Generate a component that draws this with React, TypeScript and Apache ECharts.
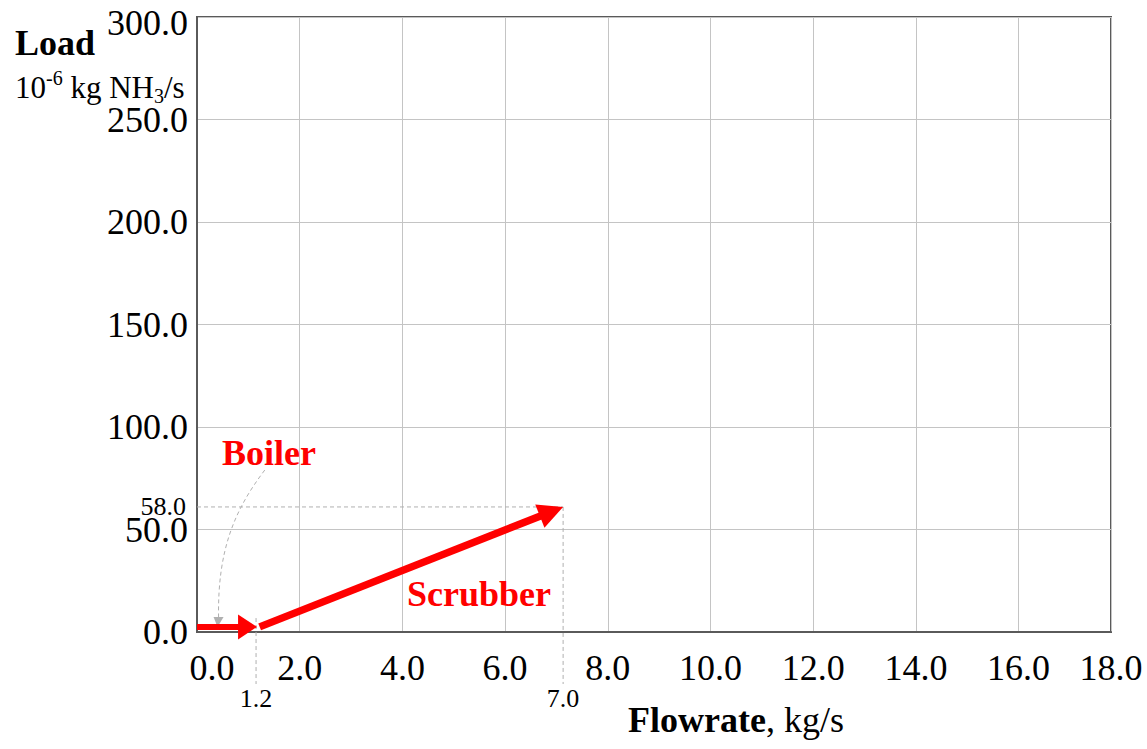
import React, { useEffect, useRef } from 'react';
import * as echarts from 'echarts';

// ---- data ----
const arrowNames = ['Boiler', 'Scrubber'];
const arrowX0 = [0, 1.22];
const arrowY0 = [2.5, 2.5];
const arrowX1 = [1.17, 7.13];
const arrowY1 = [2.5, 61];
const arrowLabelX = [1.4, 5.49];
const arrowLabelY = [87.2, 18.5];

const refVX = [1.15, 7.13];
const refVTop = [6.8, 61];
const refVText = ['1.2', '7.0'];
const refHY = [61];
const refHRight = [7.13];
const refHText = ['58.0'];

const leaderX = [1.32, 0.73, 0.4, 0.42];
const leaderY = [79, 59.5, 40, 7.3];
const leaderTip = [0.4, 2.4];

// ---- styles ----
const FONT = '"Liberation Serif", "Times New Roman", serif';
const RED = '#ff0000';
const GREY = '#b0b0b0';
const headLen = [19, 25];
const headHalf = [12.5, 12.5];
const shaftW = [6, 7.5];

export default function App() {
  const ref = useRef<HTMLDivElement>(null);
  useEffect(() => {
    if (!ref.current) return;
    const chart = echarts.init(ref.current, undefined, { renderer: 'svg' });
    const option: any = {
      animation: false,
      backgroundColor: '#ffffff',
      grid: {
        left: 197,
        top: 17,
        width: 914,
        height: 615,
        show: true,
        borderColor: '#5a5a5a',
        borderWidth: 2,
        containLabel: false,
      },
      xAxis: {
        type: 'value',
        min: 0,
        max: 17.8,
        interval: 2,
        axisLine: { show: true, lineStyle: { color: '#5a5a5a', width: 2 } },
        axisTick: { show: false },
        splitLine: { show: true, lineStyle: { color: '#c4c4c4', width: 1 } },
        axisLabel: {
          margin: 18,
          color: '#000',
          fontFamily: FONT,
          fontSize: 36,
          formatter: (v: number) => (v === 0 ? '{f|0.0}' : Math.round(v).toFixed(1)),
          rich: {
            f: { padding: [0, 0, 0, 30], fontFamily: FONT, fontSize: 36, color: '#000' },
          },
        },
      },
      yAxis: {
        type: 'value',
        min: 0,
        max: 300,
        interval: 50,
        axisLine: { show: true, lineStyle: { color: '#5a5a5a', width: 2 } },
        axisTick: { show: false },
        splitLine: { show: true, lineStyle: { color: '#c4c4c4', width: 1 } },
        axisLabel: {
          margin: 9,
          color: '#000',
          fontFamily: FONT,
          fontSize: 36,
          formatter: (v: number) => (v === 300 ? '{t|300.0}' : v.toFixed(1)),
          rich: {
            t: { padding: [12, 0, 0, 0], fontFamily: FONT, fontSize: 36, color: '#000' },
          },
        },
      },
      graphic: [
        {
          type: 'text',
          left: 15,
          top: 25,
          style: { text: 'Load', font: `bold 36px ${FONT}`, fill: '#000' },
        },
        {
          type: 'text',
          left: 15,
          top: 68,
          style: {
            text: '{n|10}{s|-6}{n| kg NH}{b|3}{n|/s}',
            rich: {
              n: { fontFamily: FONT, fontSize: 31, lineHeight: 38, color: '#000' },
              s: { fontFamily: FONT, fontSize: 20, lineHeight: 20, verticalAlign: 'top', color: '#000' },
              b: { fontFamily: FONT, fontSize: 20, lineHeight: 18, verticalAlign: 'bottom', color: '#000' },
            },
          },
        },
        {
          type: 'text',
          left: 628,
          top: 702,
          style: {
            text: '{b|Flowrate}{n|, kg/s}',
            rich: {
              b: { fontFamily: FONT, fontSize: 36, fontWeight: 'bold', color: '#000' },
              n: { fontFamily: FONT, fontSize: 36, color: '#000' },
            },
          },
        },
      ],
      series: [
        {
          type: 'custom',
          name: 'refs',
          clip: false,
          z: 3,
          data: [[0, 0]],
          renderItem: (_p: any, api: any) => {
            const children: any[] = [];
            const base = api.coord([0, 0]);
            refVX.forEach((x, i) => {
              const top = api.coord([x, refVTop[i]]);
              children.push({
                type: 'line',
                shape: { x1: top[0], y1: top[1], x2: top[0], y2: base[1] + 52 },
                style: { stroke: GREY, lineWidth: 1, lineDash: [4, 3] },
              });
              children.push({
                type: 'text',
                x: top[0],
                y: base[1] + 66,
                style: {
                  text: refVText[i],
                  font: `26px ${FONT}`,
                  fill: '#000',
                  align: 'center',
                  verticalAlign: 'middle',
                },
              });
            });
            refHY.forEach((y, i) => {
              const a = api.coord([0, y]);
              const b = api.coord([refHRight[i], y]);
              children.push({
                type: 'line',
                shape: { x1: a[0], y1: a[1], x2: b[0], y2: b[1] },
                style: { stroke: GREY, lineWidth: 1, lineDash: [4, 3] },
              });
              children.push({
                type: 'text',
                x: a[0] - 11,
                y: a[1],
                style: {
                  text: refHText[i],
                  font: `26px ${FONT}`,
                  fill: '#000',
                  align: 'right',
                  verticalAlign: 'middle',
                },
              });
            });
            const pts = leaderX.map((x, i) => api.coord([x, leaderY[i]]));
            children.push({
              type: 'bezierCurve',
              shape: {
                x1: pts[0][0], y1: pts[0][1],
                cpx1: pts[1][0], cpy1: pts[1][1],
                cpx2: pts[2][0], cpy2: pts[2][1],
                x2: pts[3][0], y2: pts[3][1],
              },
              style: { stroke: GREY, lineWidth: 1, lineDash: [4, 3], fill: null },
            });
            const tip = api.coord(leaderTip);
            children.push({
              type: 'polygon',
              shape: {
                points: [
                  [tip[0], tip[1]],
                  [pts[3][0] - 5, pts[3][1]],
                  [pts[3][0] + 5, pts[3][1]],
                ],
              },
              style: { fill: GREY },
            });
            return { type: 'group', children };
          },
        },
        {
          type: 'custom',
          name: 'arrows',
          clip: false,
          z: 5,
          data: arrowX0.map((x, i) => [x, arrowY0[i], arrowX1[i], arrowY1[i]]),
          encode: { x: [0, 2], y: [1, 3] },
          renderItem: (params: any, api: any) => {
            const i = params.dataIndex;
            const p0 = api.coord([api.value(0), api.value(1)]);
            const p1 = api.coord([api.value(2), api.value(3)]);
            const dx = p1[0] - p0[0];
            const dy = p1[1] - p0[1];
            const len = Math.hypot(dx, dy);
            const ux = dx / len;
            const uy = dy / len;
            const nx = -uy;
            const ny = ux;
            const L = headLen[i];
            const W = headHalf[i];
            const bx = p1[0] - ux * L;
            const by = p1[1] - uy * L;
            const lp = api.coord([arrowLabelX[i], arrowLabelY[i]]);
            return {
              type: 'group',
              children: [
                {
                  type: 'line',
                  shape: { x1: p0[0], y1: p0[1], x2: bx + ux * 2, y2: by + uy * 2 },
                  style: { stroke: RED, lineWidth: shaftW[i] },
                },
                {
                  type: 'polygon',
                  shape: {
                    points: [
                      [p1[0], p1[1]],
                      [bx + nx * W, by + ny * W],
                      [bx - nx * W, by - ny * W],
                    ],
                  },
                  style: { fill: RED },
                },
                {
                  type: 'text',
                  x: lp[0],
                  y: lp[1],
                  style: {
                    text: arrowNames[i],
                    font: `bold 36px ${FONT}`,
                    fill: RED,
                    align: 'center',
                    verticalAlign: 'middle',
                  },
                },
              ],
            };
          },
        },
      ],
    };
    chart.setOption(option);
    return () => chart.dispose();
  }, []);
  return (
    <div
      ref={ref}
      style={{ position: 'absolute', left: 0, top: 0, width: 1147, height: 749, background: '#fff' }}
    />
  );
}
